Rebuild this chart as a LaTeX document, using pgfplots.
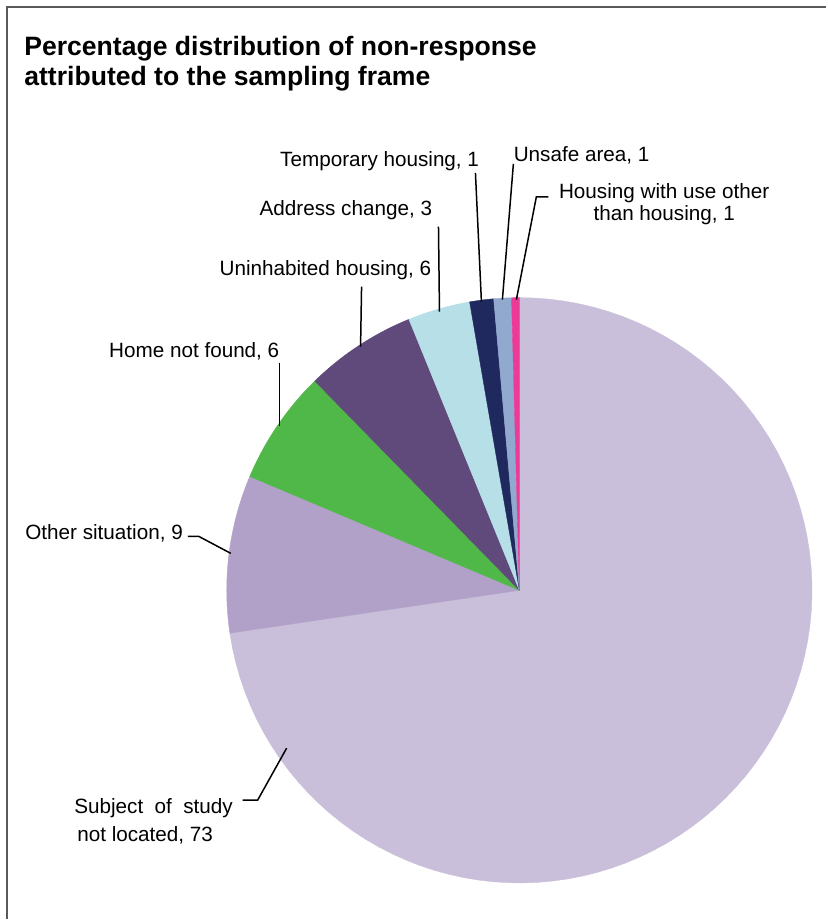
\documentclass[border=0pt]{standalone}
\usepackage{fontspec}
\setmainfont{Liberation Sans}
\usepackage{pgfplots}
\usepackage{pgfplotstable}
\pgfplotsset{compat=1.18}
\definecolor{cSubj}{HTML}{C9BFDA}
\definecolor{cOther}{HTML}{B1A1C8}
\definecolor{cHome}{HTML}{50B848}
\definecolor{cUninh}{HTML}{604A7B}
\definecolor{cAddr}{HTML}{B7DFE8}
\definecolor{cTemp}{HTML}{1F295E}
\definecolor{cUnsafe}{HTML}{91A9CF}
\definecolor{cUse}{HTML}{EC3A96}
\definecolor{frame}{HTML}{5A5A5A}
\pgfplotstableread[col sep=comma]{
label,value,color
Subject of study not located,72.66,cSubj
Other situation,8.70,cOther
Home not found,6.32,cHome
Uninhabited housing,6.16,cUninh
Address change,3.44,cAddr
Temporary housing,1.32,cTemp
Unsafe area,0.97,cUnsafe
Housing with use other than housing,0.43,cUse
}\piedata
\newcommand\lbl{\fontsize{10.35}{14}\selectfont}
\begin{document}
\begin{tikzpicture}
\begin{axis}[
  scale only axis, width=413.5pt, height=460pt,
  xmin=0, xmax=827, ymin=0, ymax=920, y dir=reverse,
  hide axis, clip=false,
]
\path (axis cs:0,0) rectangle (axis cs:827,920);
\pgfplotstablegetrowsof{\piedata}
\pgfmathtruncatemacro\N{\pgfplotsretval-1}
\def\cum{0}
\pgfplotsforeachungrouped \i in {0,...,\N}{%
  \pgfplotstablegetelem{\i}{value}\of\piedata \let\sV\pgfplotsretval
  \pgfplotstablegetelem{\i}{color}\of\piedata \let\sC\pgfplotsretval
  \pgfmathsetmacro\sA{\cum*3.6}%
  \pgfmathsetmacro\sB{(\cum+\sV)*3.6}%
  \edef\temp{\noexpand\addplot[fill=\sC, draw=\sC, line width=0.2pt, domain=\sA:\sB, samples=90, variable=\noexpand\t]
     ({520+293*sin(\noexpand\t)},{591-293*cos(\noexpand\t)}) -- (axis cs:520,591) -- cycle;}%
  \temp
  \pgfmathsetmacro\cum{\cum+\sV}%
}
% frame
\draw[frame, line width=1.1pt] (axis cs:7.3,920) -- (axis cs:7.3,6.7) -- (axis cs:827,6.7);
% title
\node[anchor=base west, inner sep=0] at (axis cs:24,56) {\fontsize{13.3}{16.5}\selectfont\bfseries Percentage distribution of non-response};
\node[anchor=base west, inner sep=0] at (axis cs:24,86) {\fontsize{13.3}{16.5}\selectfont\bfseries attributed to the sampling frame};
% leader lines
\draw[black, line width=0.75pt] (axis cs:476,173) -- (axis cs:482,302);
\draw[black, line width=0.75pt] (axis cs:514,164) -- (axis cs:503,300);
\draw[black, line width=0.75pt] (axis cs:549,197) -- (axis cs:537,197) -- (axis cs:517,300);
\draw[black, line width=0.75pt] (axis cs:439,227) -- (axis cs:440,312);
\draw[black, line width=0.75pt] (axis cs:362,287) -- (axis cs:361,347);
\draw[black, line width=0.75pt] (axis cs:280,363) -- (axis cs:280,427);
\draw[black, line width=0.75pt] (axis cs:188,537) -- (axis cs:199,537) -- (axis cs:231,554);
\draw[black, line width=0.75pt] (axis cs:243,801) -- (axis cs:258,801) -- (axis cs:287,749);
% labels
\node[anchor=base east, inner sep=0] at (axis cs:480,167) {\lbl Temporary housing, 1};
\node[anchor=base west, inner sep=0] at (axis cs:514,162) {\lbl Unsafe area, 1};
\node[anchor=base, inner sep=0] at (axis cs:665,198.3) {\lbl Housing with use other};
\node[anchor=base, inner sep=0] at (axis cs:665,221) {\lbl than housing, 1};
\node[anchor=base east, inner sep=0] at (axis cs:433,216) {\lbl Address change, 3};
\node[anchor=base east, inner sep=0] at (axis cs:432,276) {\lbl Uninhabited housing, 6};
\node[anchor=base east, inner sep=0] at (axis cs:280,358) {\lbl Home not found, 6};
\node[anchor=base west, inner sep=0] at (axis cs:25,540) {\lbl Other situation, 9};
\node[anchor=base west, inner sep=0] at (axis cs:74,814) {\lbl Subject\hspace{0.55em}of\hspace{0.55em}study};
\node[anchor=base west, inner sep=0] at (axis cs:77,842) {\lbl not located, 73};
\end{axis}
\end{tikzpicture}
\end{document}
